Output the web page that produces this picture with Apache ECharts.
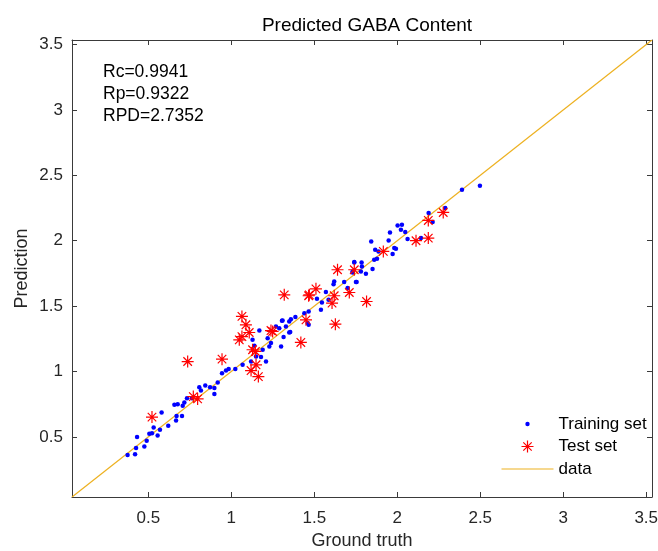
<!DOCTYPE html>
<html lang="en">
<head>
    <meta charset="UTF-8">
    <title>Predicted GABA Content</title>
    <style>
        * { margin: 0; padding: 0; }
        #main { width: 658px; height: 551px; background: #fff; }
    </style>
</head>
<body>
    <div id="main"></div>
    <script src="https://cdn.jsdelivr.net/npm/echarts@6/dist/echarts.min.js"></script>
    <script>
        // [ground truth, prediction]
        var trainingSet = [
            [0.375, 0.362], [0.42, 0.367], [0.426, 0.414], [0.432, 0.498], [0.476, 0.426],
            [0.49, 0.47], [0.506, 0.523], [0.522, 0.528], [0.532, 0.571], [0.556, 0.51],
            [0.57, 0.554], [0.58, 0.686], [0.62, 0.584], [0.667, 0.625], [0.67, 0.66],
            [0.703, 0.66], [0.657, 0.745], [0.677, 0.75], [0.707, 0.737], [0.717, 0.762],
            [0.733, 0.796], [0.763, 0.796], [0.807, 0.88], [0.817, 0.854], [0.843, 0.893],
            [0.872, 0.88], [0.898, 0.827], [0.898, 0.873], [0.918, 0.915], [0.944, 0.987],
            [0.968, 1.007], [0.984, 1.018], [1.024, 1.018], [1.068, 1.051], [1.128, 1.242],
            [1.139, 1.196], [1.169, 1.313], [1.119, 1.076], [1.149, 1.114], [1.179, 1.11],
            [1.209, 1.076], [1.189, 1.166], [1.229, 1.191], [1.239, 1.217], [1.219, 1.255],
            [1.3, 1.191], [1.269, 1.344], [1.289, 1.331], [1.309, 1.39], [1.329, 1.344],
            [1.315, 1.263], [1.355, 1.301], [1.349, 1.382], [1.359, 1.4], [1.386, 1.416],
            [1.44, 1.446], [1.46, 1.37], [1.305, 1.388], [1.466, 1.459], [1.466, 1.357],
            [1.516, 1.556], [1.54, 1.472], [1.546, 1.528], [1.57, 1.607], [1.586, 1.548],
            [1.616, 1.668], [1.62, 1.688], [1.68, 1.684], [1.701, 1.638], [1.731, 1.765],
            [1.741, 1.837], [1.751, 1.684], [1.741, 1.834], [1.731, 1.757], [1.755, 1.684],
            [1.785, 1.834], [1.787, 1.803], [1.781, 1.765], [1.811, 1.747], [1.851, 1.783],
            [1.861, 1.854], [1.878, 1.862], [1.843, 1.994], [1.867, 1.931], [1.887, 1.918],
            [1.948, 2.002], [1.956, 2.063], [1.972, 1.898], [1.982, 1.944], [1.992, 1.938],
            [2.002, 2.117], [2.022, 2.084], [2.028, 2.122], [2.048, 2.066], [2.062, 2.013],
            [2.143, 2.02], [2.189, 2.211], [2.213, 2.143], [2.289, 2.25], [2.39, 2.39],
            [2.498, 2.42], [1.349, 1.298]
        ];
        var testSet = [
            [0.522, 0.651], [0.737, 1.076], [0.771, 0.808], [0.797, 0.79], [0.944, 1.094],
            [1.064, 1.421], [1.088, 1.357], [1.048, 1.242], [1.064, 1.267], [1.108, 1.298],
            [1.128, 1.166], [1.145, 1.153], [1.149, 1.051], [1.119, 1.007], [1.163, 0.961],
            [1.239, 1.313], [1.249, 1.306], [1.319, 1.586], [1.419, 1.222], [1.45, 1.395],
            [1.47, 1.586], [1.51, 1.632], [1.466, 1.579], [1.64, 1.778], [1.62, 1.579],
            [1.607, 1.523], [1.627, 1.362], [1.711, 1.604], [1.741, 1.778], [1.815, 1.535],
            [1.916, 1.918], [2.113, 2.0], [2.187, 2.02], [2.187, 2.155], [2.277, 2.216]
        ];
        var axisRange = [0.04, 3.535];
        var statsText = ['Rc=0.9941', 'Rp=0.9322', 'RPD=2.7352'];

        var FONT = 'Liberation Sans, Arial, sans-serif';
        var AXIS_COLOR = '#3a3a3a';
        var TEXT_COLOR = '#262626';
        var LINE_COLOR = '#EDB120';
        var STAR = 'path://M0,-1L0,1M-1,0L1,0M-0.71,-0.71L0.71,0.71M-0.71,0.71L0.71,-0.71';
        // legend icons: the leading moveTo points pin the icon box to 52x14
        var ICON_DOT = 'path://M0,0M52,14M23.8,7a2.2,2.2 0 1,0 4.4,0a2.2,2.2 0 1,0 -4.4,0';
        var ICON_STAR = 'path://M0,0M52,14M26,1V13M20,7H32M21.8,2.8L30.2,11.2M21.8,11.2L30.2,2.8';
        var ICON_LINE = 'path://M0,0M52,14M0,6.4H52V7.6H0Z';

        var chart = echarts.init(document.getElementById('main'));

        function makeAxis(extra, labelMargin) {
            var axis = {
                type: 'value',
                min: axisRange[0],
                max: axisRange[1],
                splitNumber: 7,
                axisLine: { show: true, lineStyle: { color: AXIS_COLOR, width: 1 } },
                axisTick: { show: true, inside: true, length: 5, lineStyle: { color: AXIS_COLOR } },
                splitLine: { show: false },
                axisLabel: {
                    show: true,
                    showMinLabel: false,
                    showMaxLabel: false,
                    margin: labelMargin || 8,
                    color: TEXT_COLOR,
                    fontFamily: FONT,
                    fontSize: 17
                }
            };
            for (var k in extra) axis[k] = extra[k];
            return axis;
        }

        var lineData = [[axisRange[0], axisRange[0]], [axisRange[1], axisRange[1]]];

        var option = {
            backgroundColor: '#fff',
            animation: false,
            title: {
                text: 'Predicted GABA Content',
                left: 362,
                top: 11,
                textAlign: 'center',
                textStyle: { fontFamily: FONT, fontSize: 19, fontWeight: 'normal', color: '#000' }
            },
            grid: { left: 72, right: 6, top: 40, bottom: 54, outerBoundsMode: 'none', containLabel: false },
            xAxis: [
                makeAxis({
                    position: 'bottom',
                    name: 'Ground truth',
                    nameLocation: 'middle',
                    nameGap: 35,
                    nameTextStyle: { color: TEXT_COLOR, fontFamily: FONT, fontSize: 18 }
                }, 13),
                makeAxis({ position: 'top', axisLabel: { show: false } })
            ],
            yAxis: [
                makeAxis({
                    position: 'left',
                    name: 'Prediction',
                    nameLocation: 'middle',
                    nameGap: 41,
                    nameMoveOverlap: false,
                    nameTextStyle: { color: TEXT_COLOR, fontFamily: FONT, fontSize: 18 }
                }, 9),
                makeAxis({ position: 'right', axisLabel: { show: false } })
            ],
            legend: {
                orient: 'vertical',
                left: 499,
                top: 415,
                padding: 0,
                itemWidth: 52,
                itemHeight: 14,
                itemGap: 4,
                selectedMode: false,
                textStyle: { fontFamily: FONT, fontSize: 17, color: '#000', lineHeight: 18 },
                data: [
                    { name: 'Training set', icon: ICON_DOT, itemStyle: { color: '#0000ff', borderWidth: 0 } },
                    { name: 'Test set', icon: ICON_STAR, itemStyle: { color: 'none', borderColor: '#ff0000', borderWidth: 1.2 } },
                    { name: 'data', icon: ICON_LINE, itemStyle: { color: LINE_COLOR, borderWidth: 0 } }
                ]
            },
            graphic: statsText.map(function (t, i) {
                return {
                    type: 'text',
                    left: 103,
                    top: 63 + i * 22,
                    style: { text: t, font: '17.5px ' + FONT, fill: '#000' }
                };
            }),
            series: [
                {
                    name: 'data',
                    type: 'line',
                    data: lineData,
                    symbol: 'none',
                    color: LINE_COLOR,
                    lineStyle: { color: LINE_COLOR, width: 1.2 },
                    z: 1
                },
                {
                    name: 'Training set',
                    type: 'scatter',
                    data: trainingSet,
                    symbol: 'circle',
                    symbolSize: 4.5,
                    itemStyle: { color: '#0000ff', opacity: 1 },
                    z: 2
                },
                {
                    name: 'Test set',
                    type: 'scatter',
                    data: testSet,
                    symbol: STAR,
                    symbolSize: 12,
                    itemStyle: { color: 'none', borderColor: '#ff0000', borderWidth: 1.2, opacity: 1 },
                    z: 3
                }
            ]
        };

        chart.setOption(option);
    </script>
</body>
</html>
